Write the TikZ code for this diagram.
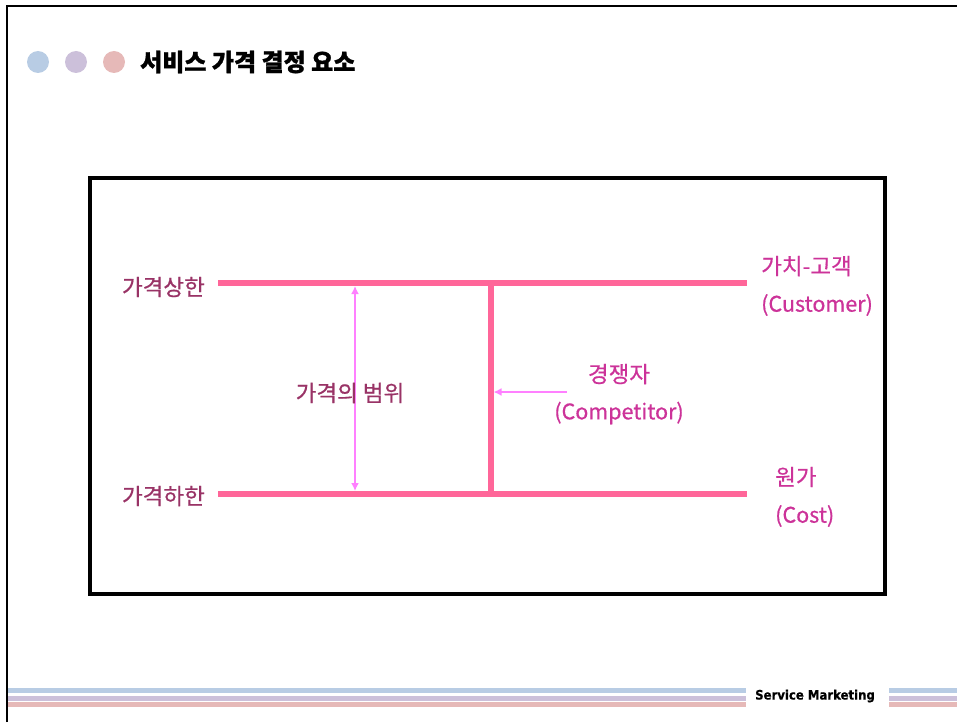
\documentclass[tikz,border=0pt]{standalone}
\usepackage{fontspec}
\newfontfamily\cjk[FakeBold=0.6]{Noto Sans CJK KR}
\newfontfamily\cjkt[FakeBold=1.2]{Noto Sans CJK KR}
\newfontfamily\sm[FakeBold=0.5]{DejaVu Sans Condensed}
\usetikzlibrary{arrows.meta}
\definecolor{cblue}{HTML}{B8CCE4}
\definecolor{cpurple}{HTML}{CCC0DA}
\definecolor{cpink}{HTML}{E6B9B8}
\definecolor{linepink}{HTML}{FF6699}
\definecolor{arrowmag}{HTML}{FF80FF}
\definecolor{darklab}{HTML}{993366}
\definecolor{maglab}{HTML}{CC3399}
\tikzset{
  dot/.style={circle,fill=#1,minimum size=22pt,inner sep=0pt},
  bar/.style={draw=linepink,line width=6pt},
  marrow/.style={draw=arrowmag,line width=2.8pt,-{Latex[length=8pt,width=8pt]}},
  dlab/.style={text=darklab,font=\cjk\fontsize{22.5}{26}\selectfont,inner sep=0pt},
  mlab/.style={text=maglab,font=\cjk\fontsize{22.5}{26}\selectfont,inner sep=0pt,anchor=west},
  mlat/.style={mlab,font=\cjk\fontsize{21.5}{25}\selectfont},
  stripe/.style={line width=5pt},
}
\begin{document}
\begin{tikzpicture}[x=1pt,y=-1pt]
\useasboundingbox (0,0) rectangle (957,722);
% slide frame
\draw[line width=2.5pt,black] (7,722) -- (7,6) -- (957,6);
% title dots
\node[dot=cblue] (d1) at (38,62) {};
\node[dot=cpurple] (d2) at (76,62) {};
\node[dot=cpink] (d3) at (114,62) {};
\node[anchor=west,inner sep=0pt,font=\cjkt\bfseries\fontsize{24}{28}\selectfont] (title) at (140,62) {서비스 가격 결정 요소};
% main box
\draw[line width=4pt] (89.5,178) rectangle (884.5,593.5);
% lines
\coordinate (tl) at (218,283);
\coordinate (tr) at (747,283);
\coordinate (bl) at (218,494);
\coordinate (br) at (747,494);
\coordinate (vt) at (490.5,283);
\coordinate (vb) at (490.5,494);
\draw[bar] (tl) -- (tr);
\draw[bar] (bl) -- (br);
\draw[bar] (vt) -- (vb);
% range arrow
\coordinate (rt) at (355,286);
\coordinate (rb) at (355,491);
\draw[marrow,{Latex[length=8pt,width=8pt]}-{Latex[length=8pt,width=8pt]}] (rt) -- (rb);
% competitor arrow
\coordinate (cs) at (567,392);
\coordinate (ce) at (493.5,392);
\draw[marrow] (cs) -- (ce);
% labels
\node[dlab,anchor=east] (up) at (205,287) {가격상한};
\node[dlab,anchor=east] (lo) at (205,496) {가격하한};
\node[dlab] (range) at (350,393) {가격의 범위};
\node[mlab] (v1) at (761,266) {가치-고객};
\node[mlat] (v2) at (761,305) {(Customer)};
\node[mlab,anchor=center] (c1) at (619,374) {경쟁자};
\node[mlat,anchor=center] (c2) at (619,413) {(Competitor)};
\node[mlab] (k1) at (775,477) {원가};
\node[mlat] (k2) at (775,516) {(Cost)};
% bottom stripes
\draw[stripe,cblue] (8,690.5) -- (746,690.5);
\draw[stripe,cpurple] (8,698.5) -- (746,698.5);
\draw[stripe,cpink] (8,704.5) -- (746,704.5);
\draw[stripe,cblue] (889,690.5) -- (957,690.5);
\draw[stripe,cpurple] (889,698.5) -- (957,698.5);
\draw[stripe,cpink] (889,704.5) -- (957,704.5);
\node[anchor=west,inner sep=0pt,font=\sm\bfseries\fontsize{13}{15}\selectfont] (sm) at (755,696) {Service Marketing};
\end{tikzpicture}
\end{document}
